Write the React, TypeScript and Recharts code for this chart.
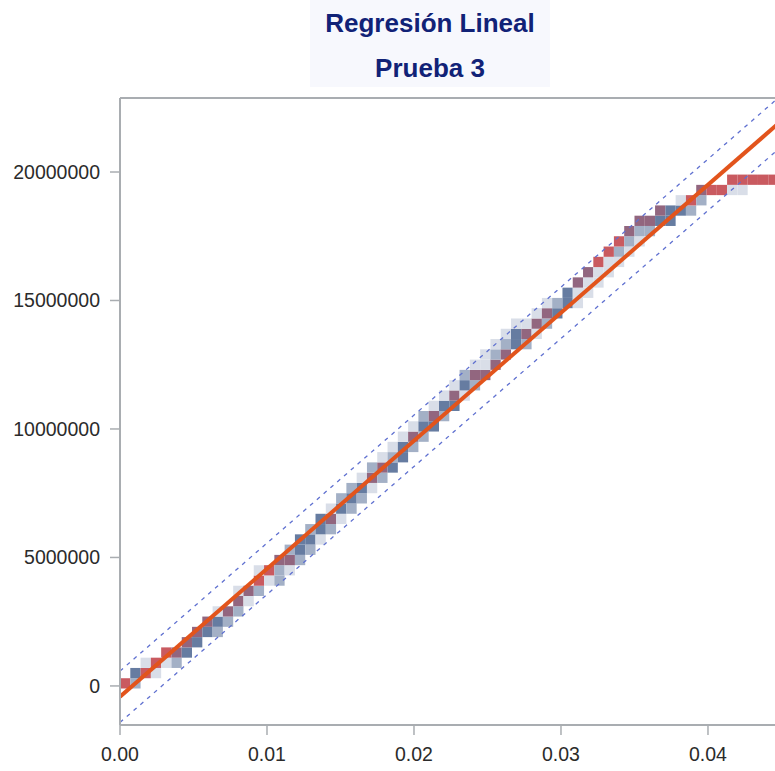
import { ComposedChart, Line, XAxis, YAxis, ReferenceArea, ReferenceLine } from 'recharts';

const xTicks = [0, 0.01, 0.02, 0.03, 0.04];
const yTicks = [0, 5000000, 10000000, 15000000, 20000000];

// fitted line and prediction limits, read at the left and right plot edges
const lineX = [0, 0.04626];
const fitY = [-420000, 22620000];
const upperY = [580000, 23620000];
const lowerY = [-1420000, 21620000];

// heat map bins
const binW = 0.0007;
const binH = 400000;
const binY0 = -100000;

// one entry per x bin: [y bin, density level 1..5]
const heatCols: [number, number][][] = [
  [[0, 5]],
  [[0, 2], [1, 3]],
  [[1, 5], [2, 1]],
  [[1, 1], [2, 5]],
  [[2, 1], [3, 5]],
  [[2, 2], [3, 4]],
  [[3, 3], [4, 4]],
  [[4, 3], [5, 4]],
  [[5, 3], [6, 4]],
  [[5, 2], [6, 3], [7, 1]],
  [[6, 2], [7, 4]],
  [[7, 2], [8, 4], [9, 1]],
  [[8, 1], [9, 4]],
  [[9, 2], [10, 5], [11, 1]],
  [[10, 1], [11, 5]],
  [[10, 2], [11, 2], [12, 4]],
  [[11, 1], [12, 4], [13, 2]],
  [[12, 2], [13, 3], [14, 3]],
  [[13, 2], [14, 3], [15, 2]],
  [[14, 1], [15, 3], [16, 3]],
  [[15, 2], [16, 4], [17, 1]],
  [[16, 1], [17, 3], [18, 2]],
  [[17, 2], [18, 3], [19, 2]],
  [[18, 2], [19, 3], [20, 1]],
  [[19, 1], [20, 4], [21, 2]],
  [[20, 2], [21, 4], [22, 1]],
  [[21, 3], [22, 2], [23, 1]],
  [[22, 3], [23, 3], [24, 1]],
  [[23, 2], [24, 4], [25, 1]],
  [[24, 2], [25, 3], [26, 2]],
  [[25, 3], [26, 4], [27, 1]],
  [[26, 2], [27, 3], [28, 1]],
  [[27, 3], [28, 4], [29, 1]],
  [[28, 1], [29, 3], [30, 2]],
  [[29, 2], [30, 4], [31, 1]],
  [[30, 4], [31, 1], [32, 1]],
  [[31, 4], [32, 2], [33, 1]],
  [[32, 4], [33, 2], [34, 1]],
  [[33, 3], [34, 3], [35, 1]],
  [[33, 2], [34, 4], [35, 1]],
  [[34, 1], [35, 4], [36, 1]],
  [[35, 2], [36, 4], [37, 1]],
  [[36, 3], [37, 2]],
  [[37, 3], [38, 3]],
  [[37, 1], [38, 1], [39, 4]],
  [[38, 1], [39, 1], [40, 4]],
  [[39, 1], [40, 1], [41, 5]],
  [[40, 1], [41, 1], [42, 5]],
  [[41, 1], [42, 2], [43, 5]],
  [[42, 1], [43, 2], [44, 4]],
  [[43, 1], [44, 2], [45, 4]],
  [[44, 2], [45, 4]],
  [[45, 3], [46, 4]],
  [[45, 3], [46, 3]],
  [[46, 3], [47, 1]],
  [[46, 2], [47, 5]],
  [[47, 2], [48, 4]],
  [[48, 5]],
  [[48, 5]],
  [[48, 1], [49, 5]],
  [[48, 1], [49, 5]],
  [[49, 5]],
  [[49, 5]],
  [[49, 5]],
];

const levelColors = ['#d9dee8', '#a3b0c6', '#667ca1', '#92667f', '#c95a60'];
const axisGray = '#a9adb1';
const font = '"Liberation Sans", Arial, sans-serif';

const lineData = lineX.map((x, k) => ({ x, fit: fitY[k], upper: upperY[k], lower: lowerY[k] }));

const cells = heatCols.flatMap((col, i) =>
  col.map(([j, level]) => ({
    x1: i * binW,
    x2: (i + 1) * binW,
    y1: binY0 + j * binH,
    y2: binY0 + (j + 1) * binH,
    color: levelColors[level - 1],
  }))
);

export default function App() {
  return (
    <div style={{ position: 'absolute', left: 0, top: 0, width: 775, height: 771, overflow: 'hidden', background: '#fff', fontFamily: font }}>
      <ComposedChart width={800} height={771} data={lineData} margin={{ top: 98, right: 0, bottom: 0, left: 0 }}>
        <XAxis
          type="number"
          dataKey="x"
          domain={[0, 0.04626]}
          ticks={xTicks}
          allowDataOverflow
          tickFormatter={(v: number) => v.toFixed(2)}
          height={46}
          tick={{ fontSize: 19.5, fill: '#2b2b2b', fontFamily: font }}
          tickSize={10}
          tickMargin={12}
          axisLine={{ stroke: axisGray, strokeWidth: 2 }}
          tickLine={{ stroke: axisGray, strokeWidth: 1.5 }}
        />
        <YAxis
          type="number"
          domain={[-1520000, 22880000]}
          ticks={yTicks}
          allowDataOverflow
          width={120}
          tickFormatter={(v: number) => String(v)}
          tick={{ fontSize: 19.5, fill: '#2b2b2b', fontFamily: font }}
          tickSize={10}
          tickMargin={10}
          axisLine={{ stroke: axisGray, strokeWidth: 2 }}
          tickLine={{ stroke: axisGray, strokeWidth: 1.5 }}
        />
        {cells.map((c, k) => (
          <ReferenceArea
            key={`cell-${k}`}
            x1={c.x1}
            x2={c.x2}
            y1={c.y1}
            y2={c.y2}
            fill={c.color}
            fillOpacity={1}
            stroke="none"
            ifOverflow="hidden"
          />
        ))}
        <ReferenceLine y={22880000} stroke={axisGray} strokeWidth={2} />
        <Line dataKey="upper" stroke="#5f70d0" strokeWidth={1.3} strokeDasharray="4 5" dot={false} activeDot={false} isAnimationActive={false} />
        <Line dataKey="lower" stroke="#5f70d0" strokeWidth={1.3} strokeDasharray="4 5" dot={false} activeDot={false} isAnimationActive={false} />
        <Line dataKey="fit" stroke="#e2541c" strokeWidth={4} dot={false} activeDot={false} isAnimationActive={false} />
      </ComposedChart>
      <div style={{ position: 'absolute', left: 310, top: 0, width: 240, height: 87, background: '#f7f8fd' }} />
      <div style={{ position: 'absolute', left: 300, top: 10, width: 260, textAlign: 'center', fontSize: 26, lineHeight: '26px', fontWeight: 'bold', color: '#112277' }}>
        Regresión Lineal
      </div>
      <div style={{ position: 'absolute', left: 300, top: 55, width: 260, textAlign: 'center', fontSize: 26, lineHeight: '26px', fontWeight: 'bold', color: '#112277' }}>
        Prueba 3
      </div>
    </div>
  );
}
